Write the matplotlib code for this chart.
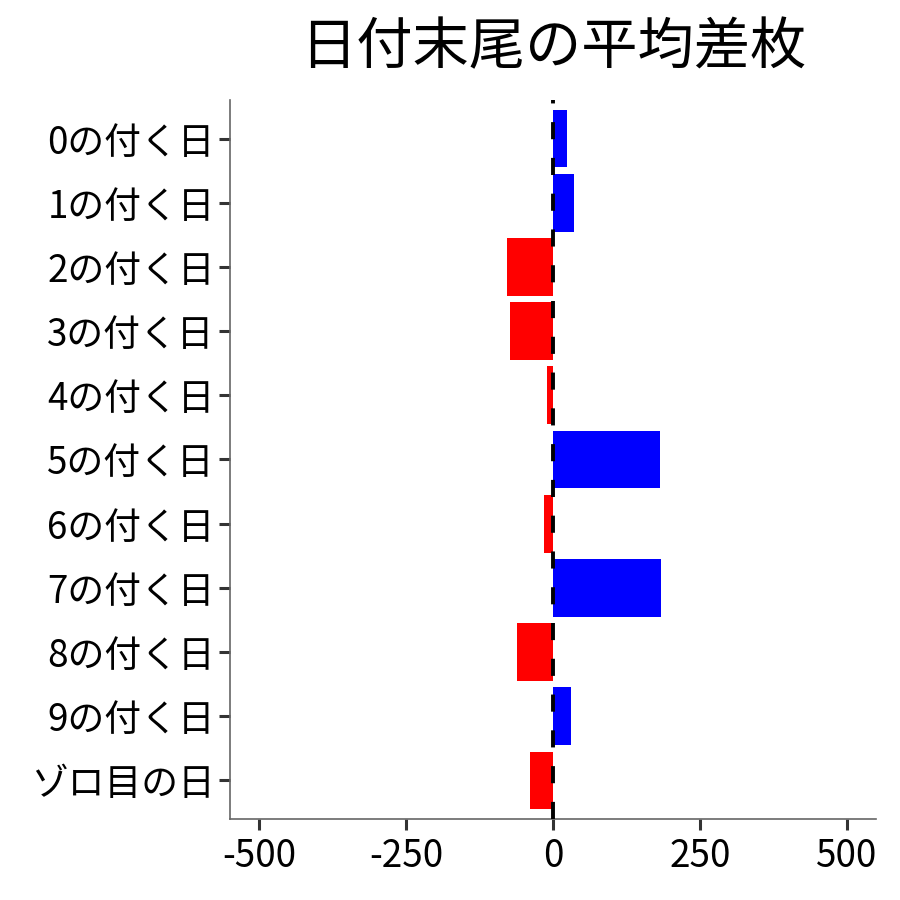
import matplotlib
matplotlib.use("Agg")
import matplotlib.pyplot as plt
import numpy as np

plt.rcParams['font.family'] = ['Noto Sans CJK JP', 'DejaVu Sans']

categories = ["0の付く日", "1の付く日", "2の付く日", "3の付く日", "4の付く日",
              "5の付く日", "6の付く日", "7の付く日", "8の付く日", "9の付く日", "ゾロ目の日"]
values = [23, 36, -79, -74, -11, 183, -16, 184, -62, 30, -40]
xticks = [-500, -250, 0, 250, 500]
xticklabels = ["-500", "-250", "0", "250", "500"]
title = "日付末尾の平均差枚"

fig = plt.figure(figsize=(9, 9), dpi=100)
ax = fig.add_axes([0.2556, 0.09, 0.9733 - 0.2556, 0.8889 - 0.09])

y = np.arange(len(categories))
colors = ["blue" if v >= 0 else "red" for v in values]
ax.barh(y, values, height=0.9, color=colors, zorder=2)
ax.axvline(0, color="black", lw=2.8, dashes=(4.4, 4.8), zorder=3)

ax.set_xlim(-550, 550)
ax.set_ylim(len(categories) - 0.4, -0.6)
ax.set_yticks(y)
ax.set_yticklabels(categories, fontsize=26.5)
ax.set_xticks(xticks)
ax.set_xticklabels(xticklabels, fontsize=26.5)

for s in ["top", "right"]:
    ax.spines[s].set_visible(False)
for s in ["left", "bottom"]:
    ax.spines[s].set_color("#666666")
    ax.spines[s].set_linewidth(1.2)
ax.tick_params(axis="both", length=8, width=2.2, color="#333333")
ax.tick_params(axis="y", pad=3)
ax.tick_params(axis="x", pad=5)

fig.text((0.2556 + 0.9733) / 2, 0.946, title, ha="center", va="center", fontsize=40.5)

fig.savefig("out.png", dpi=100, facecolor="white")
